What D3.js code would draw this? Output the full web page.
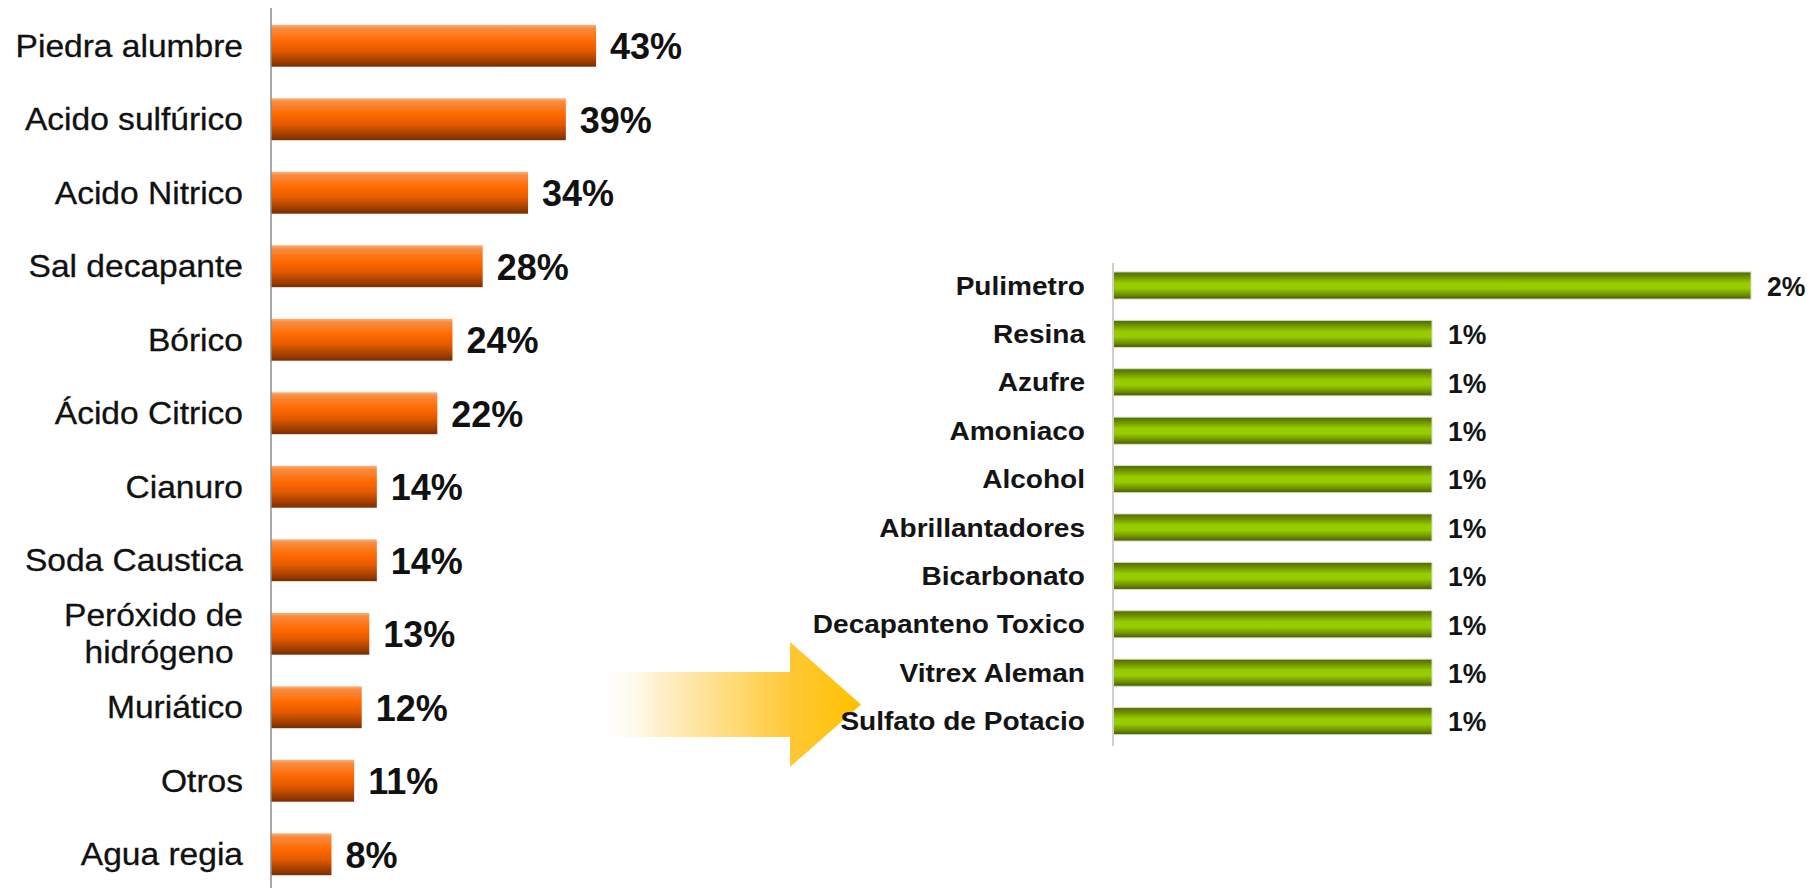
<!DOCTYPE html>
<html>
<head>
<meta charset="utf-8">
<script src="https://cdn.jsdelivr.net/npm/d3@7"></script>
<style>
  html, body { margin: 0; padding: 0; background: #ffffff; }
  svg { display: block; }
  text { font-family: Arial, "Liberation Sans", Helvetica, sans-serif; }
</style>
</head>
<body>
<svg id="chart" width="1812" height="888"></svg>
<script>
// ---------- data ----------
const leftCategories = ["Piedra alumbre", "Acido sulfúrico", "Acido Nitrico", "Sal decapante", "Bórico",
  "Ácido Citrico", "Cianuro", "Soda Caustica", "Peróxido de\nhidrógeno ", "Muriático", "Otros", "Agua regia"];
const leftValues = [43, 39, 34, 28, 24, 22, 14, 14, 13, 12, 11, 8];

const rightCategories = ["Pulimetro", "Resina", "Azufre", "Amoniaco", "Alcohol", "Abrillantadores",
  "Bicarbonato", "Decapanteno Toxico", "Vitrex Aleman", "Sulfato de Potacio"];
const rightValues = [2, 1, 1, 1, 1, 1, 1, 1, 1, 1];

// ---------- setup ----------
const svg = d3.select("#chart");
const defs = svg.append("defs");

const og = defs.append("linearGradient").attr("id", "orangeGrad")
  .attr("x1", 0).attr("y1", 0).attr("x2", 0).attr("y2", 1);
[[0, "#fbb27a"], [0.08, "#f98c40"], [0.38, "#ff6a00"], [0.62, "#e35a00"], [0.85, "#a54000"], [1, "#7a2d00"]]
  .forEach(([o, c]) => og.append("stop").attr("offset", o).attr("stop-color", c));

const gg = defs.append("linearGradient").attr("id", "greenGrad")
  .attr("x1", 0).attr("y1", 0).attr("x2", 0).attr("y2", 1);
[[0, "#4f6b00"], [0.15, "#678a00"], [0.42, "#99cc00"], [0.6, "#99cc00"], [0.85, "#6a8e00"], [1, "#435a00"]]
  .forEach(([o, c]) => gg.append("stop").attr("offset", o).attr("stop-color", c));

const ag = defs.append("linearGradient").attr("id", "arrowGrad")
  .attr("gradientUnits", "userSpaceOnUse")
  .attr("x1", 592).attr("y1", 0).attr("x2", 860).attr("y2", 0);
[[0, "#ffffff", 0], [0.25, "#fff0cc", 1], [0.55, "#ffd870", 1], [0.75, "#ffc833", 1], [1, "#ffc000", 1]]
  .forEach(([o, c, a]) => ag.append("stop").attr("offset", o).attr("stop-color", c).attr("stop-opacity", a));

// ---------- arrow (decoration, behind the right chart) ----------
const arrowShaft = { x0: 592, x1: 790, y0: 672, y1: 737 };
const arrowHead = { top: 642, bottom: 767, tip: 861 };
svg.append("path")
  .attr("d", d3.line()([
    [arrowShaft.x0, arrowShaft.y0], [arrowShaft.x1, arrowShaft.y0], [arrowShaft.x1, arrowHead.top],
    [arrowHead.tip, (arrowShaft.y0 + arrowShaft.y1) / 2], [arrowShaft.x1, arrowHead.bottom],
    [arrowShaft.x1, arrowShaft.y1], [arrowShaft.x0, arrowShaft.y1]]) + "Z")
  .attr("fill", "url(#arrowGrad)");

// ---------- left chart ----------
const xL = d3.scaleLinear().domain([0, 50]).range([271, 649]);
const yL = d3.scaleBand().domain(leftCategories).range([9, 891]).paddingInner(0.43).paddingOuter(0.215);

const left = svg.append("g");
left.selectAll("rect").data(leftCategories).join("rect")
  .attr("x", xL(0))
  .attr("y", d => yL(d))
  .attr("width", (d, i) => xL(leftValues[i]) - xL(0))
  .attr("height", yL.bandwidth())
  .attr("fill", "url(#orangeGrad)");

left.append("line")
  .attr("x1", xL(0)).attr("x2", xL(0))
  .attr("y1", 8).attr("y2", 888)
  .attr("stroke", "#8c8c8c").attr("stroke-width", 1.5);

const lLab = left.selectAll("g.lab").data(leftCategories).join("g")
  .attr("class", "lab")
  .attr("transform", d => `translate(243,${yL(d) + yL.bandwidth() / 2}) scale(1.1,1)`);
lLab.each(function (d) {
  const lines = d.split("\n");
  const t = d3.select(this).append("text")
    .attr("text-anchor", "end")
    .attr("font-size", 30.5)
    .attr("fill", "#111")
    .attr("stroke", "#111").attr("stroke-width", 0.3)
    .attr("xml:space", "preserve");
  const lh = 37;
  lines.forEach((ln, k) => {
    t.append("tspan").attr("x", 0)
      .attr("y", (k - (lines.length - 1) / 2) * lh)
      .attr("dy", "0.36em")
      .text(ln);
  });
});

left.selectAll("text.val").data(leftCategories).join("text")
  .attr("class", "val")
  .attr("x", (d, i) => xL(leftValues[i]) + 14)
  .attr("y", d => yL(d) + yL.bandwidth() / 2)
  .attr("dy", "0.37em")
  .attr("font-size", 36)
  .attr("font-weight", "bold")
  .attr("fill", "#111")
  .text((d, i) => leftValues[i] + "%");

// ---------- right chart ----------
const xR = d3.scaleLinear().domain([0, 2]).range([1113, 1751]);
const yR = d3.scaleBand().domain(rightCategories).range([261.3, 745.3]).paddingInner(0.44).paddingOuter(0.22);

const right = svg.append("g");
right.selectAll("rect").data(rightCategories).join("rect")
  .attr("x", xR(0))
  .attr("y", d => yR(d))
  .attr("width", (d, i) => xR(rightValues[i]) - xR(0))
  .attr("height", yR.bandwidth())
  .attr("fill", "url(#greenGrad)")
  .attr("stroke", "#d8dccc").attr("stroke-width", 1);

right.append("line")
  .attr("x1", xR(0)).attr("x2", xR(0))
  .attr("y1", 263).attr("y2", 746)
  .attr("stroke", "#d0d0d0").attr("stroke-width", 2);

right.selectAll("g.lab").data(rightCategories).join("g")
  .attr("class", "lab")
  .attr("transform", d => `translate(1085,${yR(d) + yR.bandwidth() / 2}) scale(1.1,1)`)
  .append("text")
  .attr("text-anchor", "end")
  .attr("dy", "0.36em")
  .attr("font-size", 25.5)
  .attr("font-weight", "bold")
  .attr("fill", "#141414")
  .text(d => d);

right.selectAll("g.val").data(rightCategories).join("g")
  .attr("class", "val")
  .attr("transform", (d, i) => `translate(${xR(rightValues[i]) + 16},${yR(d) + yR.bandwidth() / 2}) scale(0.95,1)`)
  .append("text")
  .attr("dy", "0.37em")
  .attr("font-size", 28)
  .attr("font-weight", "bold")
  .attr("fill", "#141414")
  .text((d, i) => rightValues[i] + "%");
</script>
</body>
</html>
